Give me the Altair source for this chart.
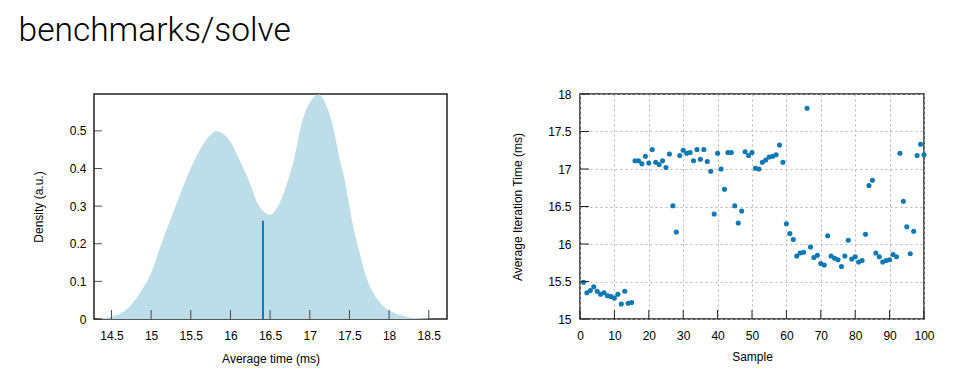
import altair as alt
import pandas as pd

# ---- density plot (left) ----
kde_x = [14.30, 14.365, 14.50, 14.62, 14.74, 14.87, 15.00, 15.12, 15.25, 15.38, 15.50,
         15.63, 15.75, 15.82, 15.88, 16.01, 16.13, 16.26, 16.34, 16.43, 16.50, 16.555,
         16.62, 16.68, 16.74, 16.81, 16.87, 16.93, 17.00, 17.06, 17.12, 17.185, 17.25,
         17.31, 17.37, 17.44, 17.50, 17.56, 17.63, 17.69, 17.75, 17.815, 17.88, 17.96,
         18.05, 18.13, 18.26, 18.42, 18.55]
kde_y = [0.000, 0.002, 0.006, 0.015, 0.035, 0.073, 0.122, 0.195, 0.268, 0.339, 0.401,
         0.455, 0.490, 0.499, 0.496, 0.468, 0.415, 0.353, 0.308, 0.284, 0.277, 0.286,
         0.308, 0.339, 0.379, 0.432, 0.495, 0.543, 0.575, 0.592, 0.597, 0.579, 0.544,
         0.495, 0.432, 0.370, 0.299, 0.233, 0.175, 0.126, 0.091, 0.064, 0.046, 0.028,
         0.018, 0.011, 0.004, 0.002, 0.000]
mean_time = [16.41]
mean_density = [0.261]
x_ticks_left = [14.5, 15, 15.5, 16, 16.5, 17, 17.5, 18, 18.5]
y_ticks_left = [0, 0.1, 0.2, 0.3, 0.4, 0.5]

# ---- iteration time scatter (right) ----
sample = list(range(1, 101))
iter_time = [15.49, 15.35, 15.38, 15.43, 15.37, 15.33, 15.35, 15.31, 15.30, 15.28,
             15.33, 15.20, 15.37, 15.21, 15.22, 17.11, 17.11, 17.07, 17.17, 17.08,
             17.26, 17.09, 17.06, 17.11, 17.02, 17.20, 16.51, 16.16, 17.18, 17.25,
             17.21, 17.22, 17.11, 17.26, 17.13, 17.26, 17.10, 16.97, 16.40, 17.21,
             17.00, 16.73, 17.22, 17.22, 16.51, 16.28, 16.44, 17.23, 17.18, 17.22,
             17.01, 17.00, 17.09, 17.12, 17.16, 17.17, 17.19, 17.32, 17.09, 16.27,
             16.14, 16.06, 15.84, 15.88, 15.89, 17.81, 15.96, 15.82, 15.85, 15.74,
             15.72, 16.11, 15.84, 15.81, 15.79, 15.70, 15.84, 16.05, 15.80, 15.83,
             15.76, 15.78, 16.13, 16.78, 16.85, 15.88, 15.83, 15.76, 15.78, 15.79,
             15.86, 15.83, 17.21, 16.57, 16.23, 15.87, 16.17, 17.18, 17.33, 17.19]
x_ticks_right = list(range(0, 101, 10))
y_ticks_right = [15, 15.5, 16, 16.5, 17, 17.5, 18]

DARK = "#0f79b3"
FILL = "#bddde9"
AXIS = "#222222"
W_L, W_R, H = 353, 344, 225

density_df = pd.DataFrame({"time": kde_x, "density": kde_y})
mean_df = pd.DataFrame({"time": mean_time, "density": mean_density})
xl_df = pd.DataFrame({"time": x_ticks_left})
yl_df = pd.DataFrame({"density": y_ticks_left})
scatter_df = pd.DataFrame({"sample": sample, "itime": iter_time})
xr_df = pd.DataFrame({"sample": x_ticks_right})
yr_df = pd.DataFrame({"itime": y_ticks_right})

# left chart scales/axes
xs_l = alt.Scale(domain=[14.28, 18.73], nice=False, zero=False)
ys_l = alt.Scale(domain=[0, 0.598], nice=False)
xa_l = alt.Axis(values=x_ticks_left, format="~g", title="Average time (ms)", grid=False,
                labelFlush=False, tickSize=0, domain=False, labelPadding=11, titlePadding=12)
ya_l = alt.Axis(values=y_ticks_left, format="~g", title="Density (a.u.)", grid=False,
                labelFlush=False, tickSize=0, domain=False, labelPadding=8, titlePadding=24)
X_L = lambda: alt.X("time:Q", scale=xs_l, axis=xa_l)
Y_L = lambda: alt.Y("density:Q", scale=ys_l, axis=ya_l)

area = alt.Chart(density_df).mark_area(color=FILL, interpolate="monotone", clip=True).encode(
    x=X_L(), y=Y_L()
)
mean_rule = alt.Chart(mean_df).mark_rule(color=DARK, strokeWidth=2).encode(
    x=X_L(), y=Y_L(), y2=alt.datum(0)
)
xt_l = alt.Chart(xl_df).mark_rule(color=AXIS, strokeWidth=1, opacity=0.8).encode(
    x=X_L(), y=alt.value(H), y2=alt.value(H - 9)
)
yt_l = alt.Chart(yl_df).mark_rule(color=AXIS, strokeWidth=1, opacity=0.8).encode(
    y=Y_L(), x=alt.value(0), x2=alt.value(8)
)
left = alt.layer(area, mean_rule, xt_l, yt_l).properties(width=W_L, height=H)

# right chart scales/axes
xs_r = alt.Scale(domain=[0, 100], nice=False)
ys_r = alt.Scale(domain=[15, 18], nice=False, zero=False)
grid_opts = dict(grid=True, gridDash=[2, 3], gridColor="#b5b5b5", gridWidth=1)
xa_r = alt.Axis(values=x_ticks_right, format="d", title="Sample", tickSize=0, domain=False,
                labelFlush=False, labelPadding=11, titlePadding=10, **grid_opts)
ya_r = alt.Axis(values=y_ticks_right, format="~g", title="Average Iteration Time (ms)",
                labelFlush=False, tickSize=0, domain=False, labelPadding=9, titlePadding=23,
                **grid_opts)
X_R = lambda: alt.X("sample:Q", scale=xs_r, axis=xa_r)
Y_R = lambda: alt.Y("itime:Q", scale=ys_r, axis=ya_r)

pts = alt.Chart(scatter_df).mark_circle(size=26, color=DARK, opacity=1).encode(
    x=X_R(), y=Y_R()
)
xt_r = alt.Chart(xr_df).mark_rule(color=AXIS, strokeWidth=1).encode(
    x=X_R(), y=alt.value(H), y2=alt.value(H - 9)
)
yt_r = alt.Chart(yr_df).mark_rule(color=AXIS, strokeWidth=1).encode(
    y=Y_R(), x=alt.value(0), x2=alt.value(9)
)
right = alt.layer(pts, xt_r, yt_r).properties(width=W_R, height=H)

chart = alt.hconcat(left, right, spacing=62).properties(
    title=alt.TitleParams("benchmarks/solve", anchor="start", frame="bounds",
                          fontSize=33.5, font="Roboto", fontWeight=300, color="#000000",
                          offset=39, dx=-13),
    padding={"left": 10, "top": 5, "right": 5, "bottom": 5},
).configure_view(stroke=AXIS, strokeWidth=1.5).configure_axis(
    labelFont="Liberation Sans", labelFontSize=12, labelColor="#000000",
    titleFont="Liberation Sans", titleFontSize=12, titleFontWeight="normal", titleColor="#000000",
)

chart.save("out.html", embed_options={"renderer": "svg", "actions": False})
